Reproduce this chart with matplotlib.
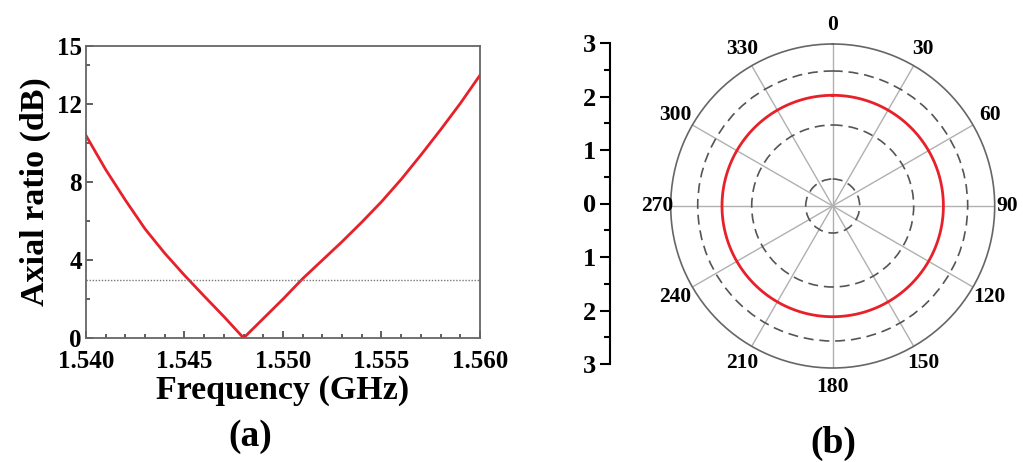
import numpy as np
import matplotlib.pyplot as plt
from matplotlib.ticker import MultipleLocator

plt.rcParams['font.family'] = ['Liberation Serif', 'DejaVu Serif']
plt.rcParams['font.weight'] = 'bold'

# (a) axial ratio vs frequency
freq = [1.540, 1.541, 1.542, 1.543, 1.544, 1.545, 1.546, 1.547, 1.548,
        1.549, 1.550, 1.551, 1.552, 1.553, 1.554, 1.555, 1.556, 1.557,
        1.558, 1.559, 1.560]
axial_ratio = [10.4, 8.65, 7.08, 5.6, 4.35, 3.22, 2.15, 1.1, 0.0,
               1.0, 2.0, 3.05, 4.0, 4.95, 5.95, 7.0, 8.15, 9.4,
               10.7, 12.05, 13.5]
ar_limit = 3

# (b) radiation pattern (deg, radius)
pattern_deg = list(range(0, 361, 2))
pattern_r = [2.05] * len(pattern_deg)
angle_ticks = list(range(0, 360, 30))
angle_labels = ['0', '30', '60', '90', '120', '150', '180', '210', '240', '270', '300', '330']

fig = plt.figure(figsize=(10.23, 4.62), dpi=100)

# ---- panel (a)
ax = fig.add_axes([86/1023, 1 - 338/462, 394/1023, 292/462])
ax.plot(freq, axial_ratio, color='#e8202a', lw=2)
ax.axhline(ar_limit, color='#777777', lw=1, ls=(0, (1, 1.2)))
ax.set_xlim(1.540, 1.560)
ax.set_ylim(0, 15)
ax.set_xticks([1.540, 1.545, 1.550, 1.555, 1.560])
ax.set_xticklabels(['1.540', '1.545', '1.550', '1.555', '1.560'])
ax.xaxis.set_minor_locator(MultipleLocator(0.001))
ax.set_yticks([0, 4, 8, 12, 15])
ax.set_yticks([2, 6, 10, 14], minor=True)
ax.tick_params(which='both', direction='in', top=False, right=False,
               labelsize=18, width=1.2, color='#444444')
ax.tick_params(which='major', length=5)
ax.tick_params(axis='x', which='major', pad=9)
ax.tick_params(axis='y', which='major', pad=3)
ax.tick_params(which='minor', length=3)
for s in ax.spines.values():
    s.set_color('#666666')
    s.set_linewidth(1.3)
ax.set_xlabel('Frequency (GHz)', fontsize=24.5, fontweight='bold', labelpad=1)
ax.set_ylabel('Axial ratio (dB)', fontsize=24.5, fontweight='bold', labelpad=4)
fig.text(250/1023, 1 - 436/462, '(a)', fontsize=27, fontweight='bold',
         ha='center', va='center')

# ---- scale bar for panel (b)
sx = fig.add_axes([610/1023, 1 - 364/462, 0.001, 321/462])
sx.set_ylim(-3, 3)
sx.set_yticks([-3, -2, -1, 0, 1, 2, 3])
sx.set_yticklabels(['3', '2', '1', '0', '1', '2', '3'])
sx.yaxis.set_minor_locator(MultipleLocator(0.5))
sx.set_xticks([])
for k in ['top', 'right', 'bottom']:
    sx.spines[k].set_visible(False)
sx.spines['left'].set_linewidth(1.5)
sx.tick_params(axis='y', which='both', direction='out', labelsize=19, width=1.5)
sx.tick_params(axis='y', which='major', length=7, pad=3)
sx.tick_params(axis='y', which='minor', length=4)
sx.patch.set_visible(False)

# ---- panel (b) polar
pax = fig.add_axes([(832.7 - 162)/1023, 1 - (206 + 162)/462, 324/1023, 324/462],
                   projection='polar')
pax.set_theta_zero_location('N')
pax.set_theta_direction(-1)
pax.plot(np.deg2rad(pattern_deg), pattern_r, color='#e8202a', lw=2)
pax.set_ylim(0, 3)
pax.set_rgrids([0.5, 1.5, 2.5], labels=['', '', ''])
pax.set_thetagrids(angle_ticks, labels=[''] * len(angle_ticks))
pax.xaxis.grid(True, color='#b0b0b0', lw=1, ls='-')
pax.yaxis.grid(True, color='#555555', lw=1.2, ls=(0, (6, 3.5)))
pax.spines['polar'].set_color('#666666')
pax.spines['polar'].set_linewidth(1.2)
for ang, lab in zip(angle_ticks, angle_labels):
    rr = 3.24 if ang in (90, 270) else 3.36
    pax.text(np.deg2rad(ang), rr, lab, fontsize=15.5, fontweight='bold',
             ha='center', va='center', clip_on=False)
fig.text(833/1023, 1 - 443/462, '(b)', fontsize=27, fontweight='bold',
         ha='center', va='center')

fig.savefig('out.png', dpi=100)
